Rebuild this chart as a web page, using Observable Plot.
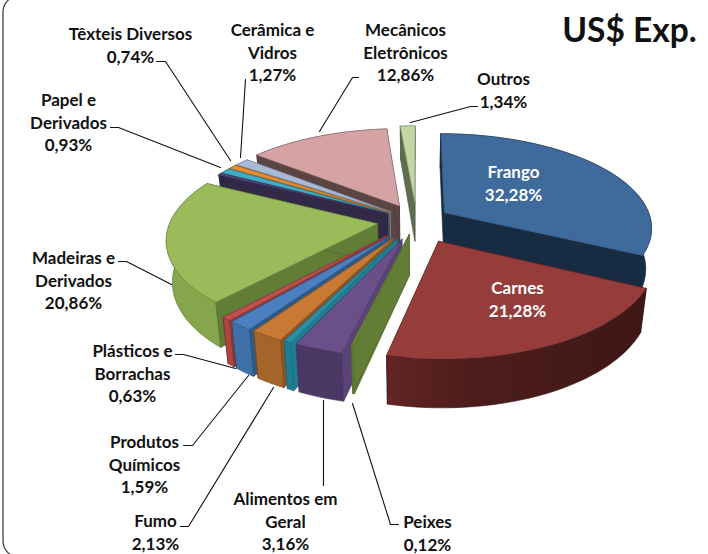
<!DOCTYPE html>
<html><head><meta charset="utf-8">
<script src="https://cdn.jsdelivr.net/npm/d3@7"></script>
<script src="https://cdn.jsdelivr.net/npm/@observablehq/plot@0.6"></script>
<style>html,body{margin:0;padding:0;background:#fff}svg{display:block}</style>
</head><body><div id="chart"></div>
<script>
// data, clockwise from the top of the pie
const categories = ["Frango","Carnes","Peixes","Alimentos em\nGeral","","Fumo","Produtos\nQuímicos","Plásticos e\nBorrachas","Madeiras e\nDerivados","","Papel e\nDerivados","Têxteis Diversos","Cerâmica e\nVidros","Mecânicos\nEletrônicos","Outros"];
const values = [32.28,21.28,0.12,3.16,0.5,2.13,1.59,0.63,20.86,0.31,0.93,0.74,1.27,12.86,1.34];

// styles
const topColors  = ["#3e6a9c","#963d3b","#76933c","#6a4f88","#2a8fa6","#c87a35","#4a80bf","#c0504d","#9abb59","#5a4a80","#41acc6","#e58d33","#a9bad9","#d5a3a3","#c3d6a4"];
const wallColors = ["#172b43","url(#carnesWall)","#617d36","#4a3763","#1f7d92","#a5652a","#3f70a8","#ae4541","#86a64c","#322848","#2c7f93","#b06a25","#7d8cab","#5b4543","#5e6e4e"];
const sideColors = ["#172b43","#3c1715","#617d36","#5b4377","#1f7d92","#8a5523","#2f5a88","#8f3835","#617d36","#322848","#2c7f93","#8a5523","#7d8cab","#5b4543","#5e6e4e"];
const explode    = [.16,.24,.15,.21,.21,.21,.21,.21,.19,.16,.16,.16,.16,.18,.2];

// layout
const labelX = [513,517,427,285,0,155,144,132,73,0,68,130,272,405,503];
const labelY = [182,298,532,520,0,531,463,372,279,0,121,44,51,51,89];
const leaders = [
  [[398,524],[390,524],[352,403]],
  [[323,485],[323,400]],
  [[180,526],[188,526],[273,387]],
  [[183,445],[192,445],[248,375]],
  [[175,354],[183,354],[235,368]],
  [[118,261],[126,261],[171,284]],
  [[110,127],[118,127],[220,167]],
  [[156,61],[165,61],[230,160]],
  [[245,79],[240,157]],
  [[358,77],[352,77],[319,131]],
  [[477,106],[470,106],[410,122]]
];

// 3D pie geometry
const cx = 416, cy = 220, R = 207, K = 93, P = 0.15, H = 40, SHRINK = 0.025;
const total = d3.sum(values);
let acc = 0;
const slices = values.map((v, i) => {
  const a0 = acc / total * 2 * Math.PI; acc += v;
  const a1 = acc / total * 2 * Math.PI;
  return {i, a0, a1, mid: (a0 + a1) / 2};
});
function project(s, r, a, z) {
  const X = explode[s.i] * Math.sin(s.mid) + r * Math.sin(a);
  const Y = -explode[s.i] * Math.cos(s.mid) - r * Math.cos(a);
  const k = 1 / (1 - P * Y);
  return [cx + R * X * k * (1 - SHRINK * z), cy + K * Y * k + H * k * z];
}
const faces = [];
let fid = 0;
function face(pts, fill, stroke) {
  const id = fid++;
  [...pts, pts[0]].forEach(p => faces.push({id, x: p[0], y: p[1], fill, stroke}));
}
const dark = c => d3.color(c).darker(.6).formatHex();
const order = slices.slice().sort((a, b) => Math.cos(b.mid) - Math.cos(a.mid));
for (const s of order) {
  const i = s.i;
  for (const a of [s.a0, s.a1])
    face([project(s,0,0,0), project(s,1,a,0), project(s,1,a,1), project(s,0,0,1)], sideColors[i], dark(sideColors[i]));
  const n = Math.max(1, Math.ceil((s.a1 - s.a0) / 0.04));
  const arc0 = d3.range(n + 1).map(j => project(s,1,s.a0 + (s.a1 - s.a0) * j / n,0));
  const arc1 = d3.range(n + 1).map(j => project(s,1,s.a0 + (s.a1 - s.a0) * j / n,1));
  face([...arc0, ...arc1.reverse()], wallColors[i], dark(sideColors[i]));
  face([project(s,0,0,0), ...arc0], topColors[i], d3.color(topColors[i]).darker(.9).formatHex());
}

const fmt = v => v.toFixed(2).replace(".", ",") + "%";
const labels = categories.map((c, i) => ({text: c + "\n" + fmt(values[i]), x: labelX[i], y: labelY[i], white: i < 2, show: c !== ""})).filter(d => d.show);
const leaderPts = leaders.flatMap((l, id) => l.map(p => ({id, x: p[0], y: p[1]})));

const defs = () => {
  const d = d3.create("svg:defs");
  const g = d.append("linearGradient").attr("id", "carnesWall");
  g.append("stop").attr("offset", "0").attr("stop-color", "#622524");
  g.append("stop").attr("offset", "0.3").attr("stop-color", "#4e1d1b");
  g.append("stop").attr("offset", "1").attr("stop-color", "#3e1715");
  return d.node();
};

const chart = Plot.plot({
  width: 708, height: 554, margin: 0,
  x: {domain: [0, 708], range: [0, 708], axis: null},
  y: {domain: [0, 554], range: [0, 554], axis: null},
  color: {type: "identity"},
  marks: [
    defs,
    Plot.rect([{}], {x1: () => 3, x2: () => 780, y1: () => -4, y2: () => 557, rx: 16, fill: "none", stroke: "#333", strokeWidth: 1.2}),
    Plot.line(faces, {x: "x", y: "y", z: "id", fill: "fill", stroke: "stroke", strokeWidth: 0.6, curve: "linear"}),
    Plot.line(leaderPts, {x: "x", y: "y", z: "id", stroke: "#111", strokeWidth: 1.1, curve: "linear"}),
    Plot.text(labels, {x: "x", y: "y", text: "text", fill: d => d.white ? "#fff" : "#111", lineHeight: 1.32, fontSize: 17, fontWeight: 700, fontFamily: "Lato", textAnchor: "middle", lineAnchor: "middle"}),
    Plot.text(["US$ Exp."], {x: () => 629, y: () => 31, text: d => d, fontSize: 33.5, fontWeight: 700, fontFamily: "Lato", fill: "#111", lineAnchor: "middle", textAnchor: "middle"})
  ]
});
document.getElementById("chart").append(chart);
</script></body></html>
